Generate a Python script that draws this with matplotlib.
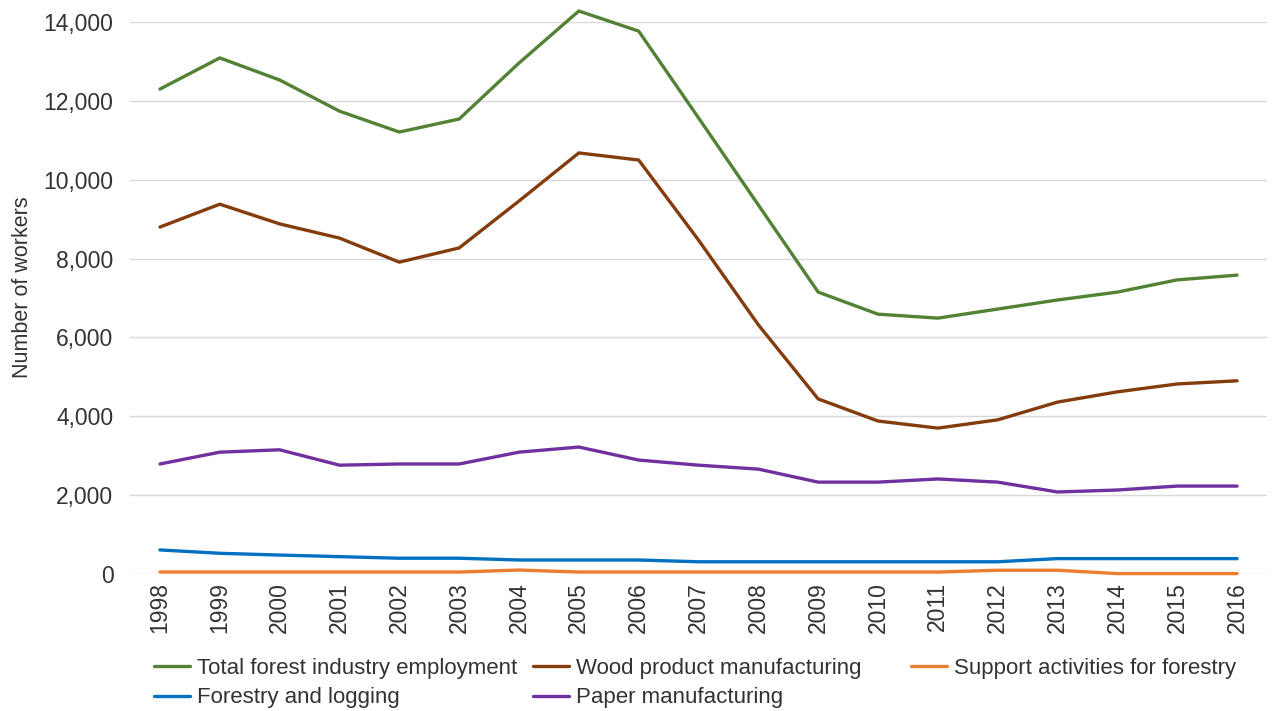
import matplotlib.pyplot as plt
from matplotlib.ticker import FuncFormatter

plt.rcParams['font.family'] = ['Liberation Sans', 'DejaVu Sans']

years = list(range(1998, 2017))

total_forest = [12300, 13090, 12530, 11740, 11210, 11540, 12960, 14280, 13770,
                11570, 9360, 7150, 6590, 6490, 6720, 6950, 7150, 7460, 7580]
wood_product = [8800, 9380, 8880, 8520, 7910, 8270, 9460, 10680, 10500,
                8470, 6320, 4440, 3880, 3700, 3910, 4360, 4620, 4820, 4900]
support_forestry = [50, 50, 50, 50, 50, 50, 100, 50, 50,
                    50, 50, 50, 50, 50, 95, 95, 10, 10, 10]
forestry_logging = [610, 525, 480, 440, 400, 400, 355, 355, 355,
                    310, 310, 310, 310, 310, 310, 390, 390, 390, 390]
paper = [2790, 3090, 3150, 2760, 2790, 2790, 3090, 3220, 2890,
         2760, 2660, 2330, 2330, 2410, 2330, 2080, 2130, 2230, 2230]

series = {
    'total': ('Total forest industry employment', total_forest, '#548235'),
    'logging': ('Forestry and logging', forestry_logging, '#0070C0'),
    'wood': ('Wood product manufacturing', wood_product, '#843C0C'),
    'paper': ('Paper manufacturing', paper, '#7030A0'),
    'support': ('Support activities for forestry', support_forestry, '#ED7D31'),
}
# bottom lines first so the bigger series sit on top
draw_order = ['support', 'logging', 'paper', 'wood', 'total']
# legend columns, equal width like the office chart legend
legend_cols = [['total', 'logging'], ['wood', 'paper'], ['support']]
legend_x = [154, 533, 911]

text_color = '#333333'
W, H = 1275, 711

fig = plt.figure(figsize=(W / 100, H / 100), dpi=100)
ax = fig.add_axes([0.102, 0.1927, 0.8917, 0.7763])

x = list(range(len(years)))
lines = {}
for key in draw_order:
    name, vals, color = series[key]
    line, = ax.plot(x, vals, color=color, lw=2.4, label=name, clip_on=False,
                    solid_capstyle='round', solid_joinstyle='round')
    lines[key] = line

ax.set_xlim(-0.5, len(years) - 0.5)
ax.set_ylim(0, 14000)
ax.set_yticks(range(0, 14001, 2000))
ax.yaxis.set_major_formatter(FuncFormatter(lambda v, p: f'{int(v):,}'))
ax.set_xticks(x)
ax.set_xticklabels([str(y) for y in years], rotation=90)

ax.grid(axis='y', color='#D9D9D9', lw=1)
ax.set_axisbelow(True)
for s in ax.spines.values():
    s.set_visible(False)
ax.tick_params(length=0, labelsize=16.5, colors=text_color, pad=6)
ax.tick_params(axis='y', pad=12)

ax.set_ylabel('Number of workers', fontsize=15.5, color=text_color)
ax.yaxis.set_label_coords(-0.085, 0.52)

for col, px in zip(legend_cols, legend_x):
    leg = fig.legend([lines[k] for k in col], [series[k][0] for k in col],
                     loc='upper left', bbox_to_anchor=(px / W, 1 - 658 / H),
                     frameon=False, fontsize=16, borderpad=0, borderaxespad=0,
                     handlelength=1.62, handletextpad=0.3, labelspacing=0.38,
                     labelcolor=text_color)

fig.savefig('out.png', dpi=100)
